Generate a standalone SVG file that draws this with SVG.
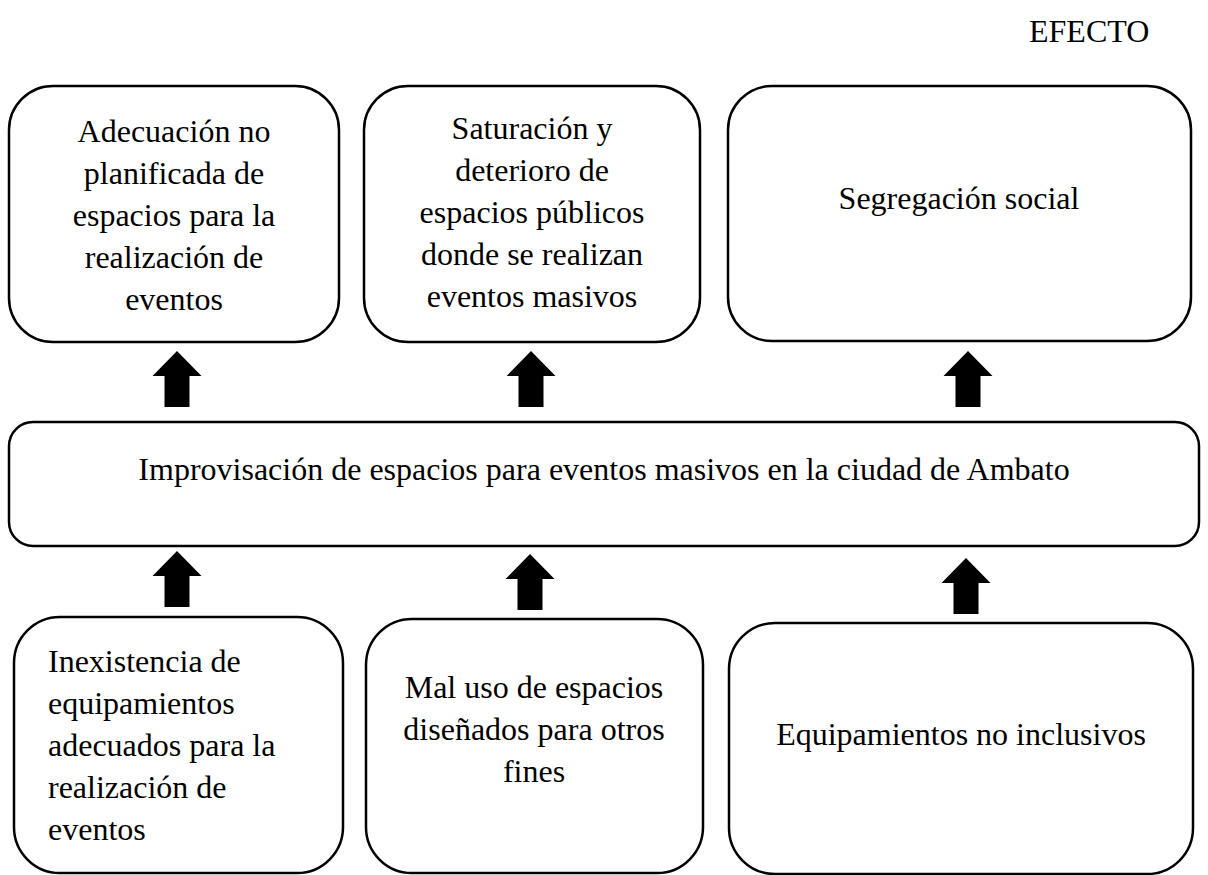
<svg xmlns="http://www.w3.org/2000/svg" width="1208" height="875" viewBox="0 0 1208 875">
<style>
.box{fill:#fff;stroke:#000;stroke-width:2.5}
.t{font-family:"Liberation Serif","Times New Roman",serif;font-size:32px;fill:#000}
.c{text-anchor:middle}
.arr{fill:#000}
</style>
<defs>
<path id="up" d="M0,0 L24.5,25 L12.5,25 L12.5,56 L-12.5,56 L-12.5,25 L-24.5,25 Z"/>
</defs>
<rect width="1208" height="875" fill="#fff"/>
<text id="label-efecto" class="t" x="1029" y="42">EFECTO</text>
<g id="node-efecto1">
<rect class="box" x="9" y="86" width="330" height="256" rx="44" ry="44"/>
<text class="t c" x="174" y="142">Adecuación no</text>
<text class="t c" x="174" y="184">planificada de</text>
<text class="t c" x="174" y="226">espacios para la</text>
<text class="t c" x="174" y="268">realización de</text>
<text class="t c" x="174" y="310">eventos</text>
</g>
<g id="node-efecto2">
<rect class="box" x="364" y="86" width="336" height="256" rx="44" ry="44"/>
<text class="t c" x="532" y="139">Saturación y</text>
<text class="t c" x="532" y="181">deterioro de</text>
<text class="t c" x="532" y="223">espacios públicos</text>
<text class="t c" x="532" y="265">donde se realizan</text>
<text class="t c" x="532" y="307">eventos masivos</text>
</g>
<g id="node-efecto3">
<rect class="box" x="728" y="86" width="463" height="255" rx="44" ry="44"/>
<text class="t c" x="959" y="209">Segregación social</text>
</g>
<g id="node-problema">
<rect class="box" x="9" y="422" width="1190" height="124" rx="24" ry="24"/>
<text class="t c" x="604" y="480">Improvisación de espacios para eventos masivos en la ciudad de Ambato</text>
</g>
<g id="node-causa1">
<rect class="box" x="14" y="617" width="329" height="256" rx="46" ry="46"/>
<text class="t" x="48" y="672">Inexistencia de</text>
<text class="t" x="48" y="714">equipamientos</text>
<text class="t" x="48" y="756">adecuados para la</text>
<text class="t" x="48" y="798">realización de</text>
<text class="t" x="48" y="840">eventos</text>
</g>
<g id="node-causa2">
<rect class="box" x="366" y="619" width="337" height="254" rx="46" ry="46"/>
<text class="t c" x="534" y="698">Mal uso de espacios</text>
<text class="t c" x="534" y="740">diseñados para otros</text>
<text class="t c" x="534" y="782">fines</text>
</g>
<g id="node-causa3">
<rect class="box" x="729" y="623" width="464" height="251" rx="46" ry="46"/>
<text class="t c" x="961" y="745">Equipamientos no inclusivos</text>
</g>
<g id="connectors">
<use href="#up" class="arr" x="177" y="351"/>
<use href="#up" class="arr" x="531" y="351"/>
<use href="#up" class="arr" x="968" y="351"/>
<use href="#up" class="arr" x="177" y="551"/>
<use href="#up" class="arr" x="530" y="554"/>
<use href="#up" class="arr" x="966" y="558"/>
</g>
</svg>
